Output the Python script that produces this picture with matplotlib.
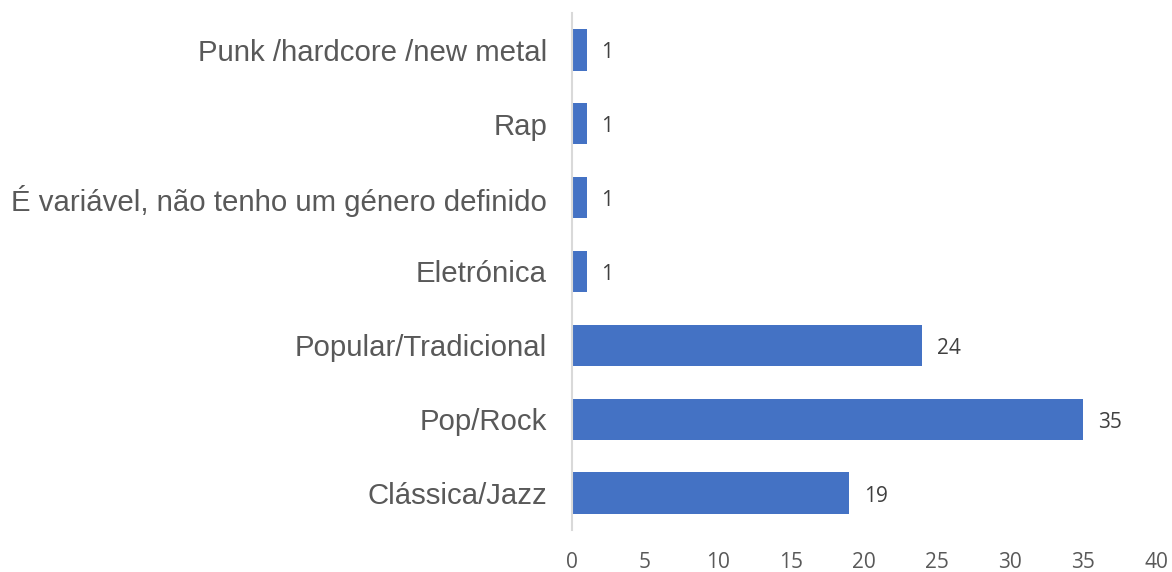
import matplotlib
matplotlib.use("Agg")
import matplotlib.pyplot as plt

categories = ["Clássica/Jazz", "Pop/Rock", "Popular/Tradicional", "Eletrónica",
              "É variável, não tenho um género definido", "Rap", "Punk /hardcore /new metal"]
values = [19, 35, 24, 1, 1, 1, 1]
xticks = [0, 5, 10, 15, 20, 25, 30, 35, 40]

fig = plt.figure(figsize=(11.72, 5.72), dpi=100)
ax = fig.add_axes([572/1172, 1-530/572, (1156-572)/1172, (530-13)/572])

ypos = list(range(len(categories)))
ax.barh(ypos, values, height=0.56, color="#4472C4", zorder=2)
ax.set_ylim(-0.5, len(categories) - 0.5)
ax.set_xlim(0, 40)
ax.set_yticks(ypos)
ax.set_yticklabels(categories, family="Liberation Sans", fontsize=21.2, color="#595959")
ax.set_xticks(xticks)
ax.set_xticklabels([str(t) for t in xticks], family="Open Sans", fontsize=15, color="#595959")
ax.tick_params(axis="y", length=0, pad=18)
ax.tick_params(axis="x", length=0, pad=16)
for s in ["top", "right", "bottom"]:
    ax.spines[s].set_visible(False)
ax.spines["left"].set_color("#D9D9D9")
ax.spines["left"].set_linewidth(1.5)

for y, v in zip(ypos, values):
    ax.text(v + 1.0, y - 0.04, str(v), va="center", ha="left", family="Open Sans",
            fontsize=15, color="#404040")

fig.savefig("out.png", dpi=100)
